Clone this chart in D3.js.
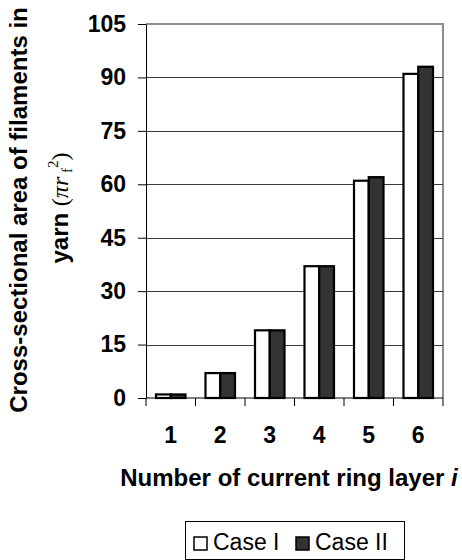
<!DOCTYPE html>
<html>
<head>
<meta charset="utf-8">
<script src="https://cdn.jsdelivr.net/npm/d3@7"></script>
<style>
  body { margin: 0; background: #fff; }
  svg { display: block; font-family: "Liberation Sans", Arial, sans-serif; }
</style>
</head>
<body>
<div id="chart"></div>
<script>
// data
var layers = ["1", "2", "3", "4", "5", "6"];
var caseI = [1, 7, 19, 37, 61, 91];
var caseII = [1, 7, 19, 37, 62, 93];
var seriesNames = ["Case I", "Case II"];
var yTicks = [0, 15, 30, 45, 60, 75, 90, 105];

var W = 462, H = 560;
var plotL = 146, plotR = 443, plotT = 24, plotB = 398;

var svg = d3.select("#chart").append("svg")
    .attr("width", W)
    .attr("height", H);

svg.append("rect").attr("width", W).attr("height", H).attr("fill", "#fff");

var x0 = d3.scaleBand().domain(layers).range([plotL, plotR]).padding(0);
var x1 = d3.scaleBand().domain(seriesNames)
    .range([10, x0.bandwidth() - 10]).padding(0);
var y = d3.scaleLinear().domain([0, 105]).range([plotB, plotT]);

var fills = { "Case I": "#ffffff", "Case II": "#333333" };

// plot frame (grey top / right)
svg.append("path")
    .attr("d", "M" + plotL + "," + plotT + "H" + plotR + "V" + plotB)
    .attr("fill", "none")
    .attr("stroke", "#8c8c8c")
    .attr("stroke-width", 2);

// gridlines
svg.append("g").selectAll("line")
    .data(yTicks.filter(function (d) { return d > 0 && d < 105; }))
    .enter().append("line")
    .attr("x1", plotL).attr("x2", plotR)
    .attr("y1", function (d) { return Math.round(y(d)) + 0.5; })
    .attr("y2", function (d) { return Math.round(y(d)) + 0.5; })
    .attr("stroke", "#3a3a3a")
    .attr("stroke-width", 1);

// bars
var rows = layers.map(function (l, i) {
    return { layer: l, vals: [
        { name: "Case I", v: caseI[i] },
        { name: "Case II", v: caseII[i] }
    ] };
});

var groups = svg.append("g").selectAll("g")
    .data(rows)
    .enter().append("g")
    .attr("transform", function (d) { return "translate(" + x0(d.layer) + ",0)"; });

groups.selectAll("rect")
    .data(function (d) { return d.vals; })
    .enter().append("rect")
    .attr("x", function (d) { return x1(d.name); })
    .attr("y", function (d) { return y(d.v); })
    .attr("width", x1.bandwidth())
    .attr("height", function (d) { return y(0) - y(d.v); })
    .attr("fill", function (d) { return fills[d.name]; })
    .attr("stroke", "#000")
    .attr("stroke-width", 2.2);

// y axis
var yAxis = svg.append("g")
    .attr("transform", "translate(" + plotL + ",0)")
    .call(d3.axisLeft(y).tickValues(yTicks).tickSize(8).tickPadding(12).tickSizeOuter(0));
yAxis.select(".domain").attr("stroke", "#000");
yAxis.selectAll(".tick line").attr("stroke", "#000");
yAxis.selectAll("text")
    .attr("font-family", "Liberation Sans, Arial, sans-serif")
    .attr("font-size", 23)
    .attr("font-weight", "bold")
    .attr("fill", "#000");

// x axis: ticks between categories
var xAxis = svg.append("g")
    .attr("transform", "translate(0," + plotB + ")");
xAxis.append("line")
    .attr("x1", plotL).attr("x2", plotR)
    .attr("stroke", "#000");
xAxis.selectAll("line.tk")
    .data(layers.concat(["end"]))
    .enter().append("line")
    .attr("class", "tk")
    .attr("x1", function (d) { return d === "end" ? plotR : x0(d); })
    .attr("x2", function (d) { return d === "end" ? plotR : x0(d); })
    .attr("y1", 0).attr("y2", 8)
    .attr("stroke", "#000");
xAxis.selectAll("text")
    .data(layers)
    .enter().append("text")
    .attr("x", function (d) { return x0(d) + x0.bandwidth() / 2; })
    .attr("y", 45)
    .attr("text-anchor", "middle")
    .attr("font-size", 23)
    .attr("font-weight", "bold")
    .text(function (d) { return d; });

// x title
var xt = svg.append("text")
    .attr("x", 289).attr("y", 486)
    .attr("text-anchor", "middle")
    .attr("font-size", 24)
    .attr("font-weight", "bold");
xt.append("tspan").text("Number of current ring layer ");
xt.append("tspan").attr("font-style", "italic").text("i");

// y title, two lines
svg.append("text")
    .attr("transform", "translate(27,210) rotate(-90)")
    .attr("text-anchor", "middle")
    .attr("font-size", 24)
    .attr("font-weight", "bold")
    .text("Cross-sectional area of filaments in");

var yt = svg.append("text")
    .attr("transform", "translate(68,208) rotate(-90)")
    .attr("text-anchor", "middle")
    .attr("font-size", 24)
    .attr("font-weight", "bold");
yt.append("tspan").text("yarn ");
yt.append("tspan").attr("font-family", "Liberation Serif, serif").attr("font-weight", "normal").text("(");
yt.append("tspan").attr("font-family", "Liberation Serif, serif").attr("font-style", "italic").attr("font-weight", "normal").text("\u03c0r");
yt.append("tspan").attr("font-family", "Liberation Serif, serif").attr("font-weight", "normal")
    .attr("font-size", 15).attr("dy", 4).text(" f");
yt.append("tspan").attr("font-family", "Liberation Serif, serif").attr("font-weight", "normal")
    .attr("font-size", 15).attr("dy", -14).text("2");
yt.append("tspan").attr("font-family", "Liberation Serif, serif").attr("font-weight", "normal")
    .attr("dy", 10).text(")");

// legend
var lg = svg.append("g").attr("transform", "translate(185,521)");
lg.append("rect")
    .attr("x", 0.5).attr("y", 0.5)
    .attr("width", 219).attr("height", 38)
    .attr("fill", "#fff").attr("stroke", "#000");
var legendX = [8, 110];
var items = lg.selectAll("g.item")
    .data(seriesNames)
    .enter().append("g")
    .attr("class", "item")
    .attr("transform", function (d, i) { return "translate(" + legendX[i] + ",0)"; });
items.append("rect")
    .attr("x", 1).attr("y", 16)
    .attr("width", 13).attr("height", 13)
    .attr("fill", function (d) { return fills[d]; })
    .attr("stroke", "#000")
    .attr("stroke-width", 1.5);
items.append("text")
    .attr("x", 20).attr("y", 29)
    .attr("font-size", 23)
    .text(function (d) { return d; });
</script>
</body>
</html>
